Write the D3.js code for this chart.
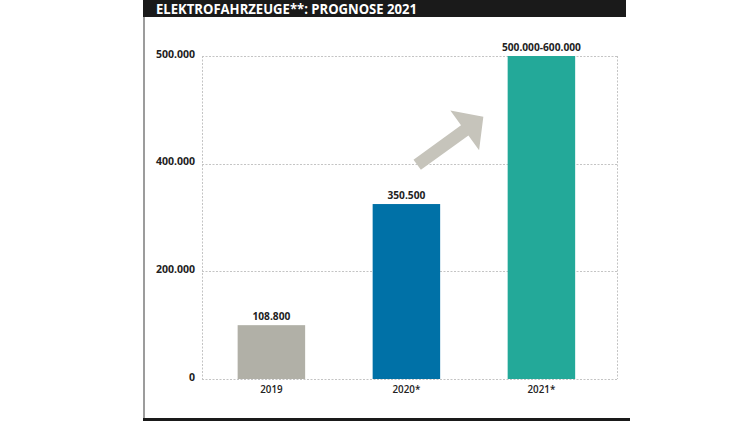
<!DOCTYPE html>
<html>
<head>
<meta charset="utf-8">
<script src="https://cdn.jsdelivr.net/npm/d3@7"></script>
<style>
  html, body { margin: 0; padding: 0; background: #fff; }
  svg { display: block; font-family: "Open Sans", "DejaVu Sans", sans-serif; }
</style>
</head>
<body>
<svg id="chart" width="750" height="422"></svg>
<script>
// ---- data ----
const title = "ELEKTROFAHRZEUGE**: PROGNOSE 2021";
const categories = ["2019", "2020*", "2021*"];
const barValues = [100000, 325000, 600000];          // bar heights as drawn
const barLabels = ["108.800", "350.500", "500.000-600.000"];
const barColors = ["#b1b0a7", "#0071a7", "#23a999"];
const tickValues = [0, 200000, 400000, 600000];
const tickLabels = ["0", "200.000", "400.000", "500.000"];
// trend arrow annotation (data space: value axis)
const arrowFrom = { cat: "2020*", frac: 0.66, value: 398000 };
const arrowTo = { cat: "2021*", frac: -0.36, value: 487000 };

// ---- layout ----
const svg = d3.select("#chart");
const plot = { left: 202, right: 617, top: 56, bottom: 379 };

const x = d3.scaleBand()
  .domain(categories)
  .range([plot.left, 610.8])
  .paddingInner(0.5)
  .paddingOuter(0.264);

const y = d3.scaleLinear()
  .domain([0, 600000])
  .range([plot.bottom, plot.top]);

// title bar
svg.append("rect")
  .attr("x", 143).attr("y", 0)
  .attr("width", 626 - 143).attr("height", 17)
  .attr("fill", "#1a1a1a");
svg.append("text")
  .attr("x", 156).attr("y", 14.2)
  .attr("fill", "#fff")
  .attr("font-size", 13.8)
  .attr("font-weight", 700)
  .attr("textLength", 261)
  .attr("lengthAdjust", "spacingAndGlyphs")
  .text(title);

// frame: left grey border, bottom black rule
svg.append("rect")
  .attr("x", 143).attr("y", 17)
  .attr("width", 2).attr("height", 418 - 17)
  .attr("fill", "#9c9c9c");
svg.append("rect")
  .attr("x", 143).attr("y", 418)
  .attr("width", 630 - 143).attr("height", 3)
  .attr("fill", "#1a1a1a");

// gridlines
const grid = svg.append("g")
  .attr("stroke", "#c4c4c4")
  .attr("stroke-width", 1)
  .attr("stroke-dasharray", "2,1.5")
  .attr("fill", "none");
grid.selectAll("line.h")
  .data(tickValues)
  .join("line")
  .attr("class", "h")
  .attr("x1", plot.left).attr("x2", plot.right)
  .attr("y1", d => Math.round(y(d)) + 0.5)
  .attr("y2", d => Math.round(y(d)) + 0.5);
grid.selectAll("line.v")
  .data([plot.left, plot.right])
  .join("line")
  .attr("class", "v")
  .attr("x1", d => d + 0.5).attr("x2", d => d + 0.5)
  .attr("y1", plot.top).attr("y2", plot.bottom);

// y axis labels
const yAxis = d3.axisLeft(y)
  .tickValues(tickValues)
  .tickFormat((d, i) => tickLabels[i])
  .tickSize(0)
  .tickPadding(0);
const yg = svg.append("g")
  .attr("transform", `translate(195,0)`)
  .call(yAxis);
yg.select(".domain").remove();
yg.selectAll("text")
  .attr("font-family", "Open Sans, sans-serif")
  .attr("font-size", 10.5)
  .attr("font-weight", 700)
  .attr("fill", "#222")
  .attr("dy", "0.1em");

// bars
svg.selectAll("rect.bar")
  .data(categories)
  .join("rect")
  .attr("class", "bar")
  .attr("x", d => x(d))
  .attr("width", x.bandwidth())
  .attr("y", (d, i) => y(barValues[i]))
  .attr("height", (d, i) => y(0) - y(barValues[i]))
  .attr("fill", (d, i) => barColors[i]);

// value labels
svg.selectAll("text.val")
  .data(categories)
  .join("text")
  .attr("class", "val")
  .attr("x", d => x(d) + x.bandwidth() / 2)
  .attr("y", (d, i) => y(barValues[i]) - 5)
  .attr("text-anchor", "middle")
  .attr("font-size", 10.2)
  .attr("font-weight", 700)
  .attr("fill", "#222")
  .text((d, i) => barLabels[i]);

// x axis labels
const xAxis = d3.axisBottom(x).tickSize(0).tickPadding(0);
const xg = svg.append("g")
  .attr("transform", `translate(0,386)`)
  .call(xAxis);
xg.select(".domain").remove();
xg.selectAll("text")
  .attr("font-family", "Open Sans, sans-serif")
  .attr("font-size", 9.8)
  .attr("font-weight", 600)
  .attr("fill", "#222");

// trend arrow
const p0 = [x(arrowFrom.cat) + arrowFrom.frac * x.bandwidth(), y(arrowFrom.value)];
const p1 = [x(arrowTo.cat) + arrowTo.frac * x.bandwidth(), y(arrowTo.value)];
const dx = p1[0] - p0[0], dy = p1[1] - p0[1];
const len = Math.hypot(dx, dy);
const ux = dx / len, uy = dy / len;      // along
const nx = -uy, ny = ux;                  // normal
const shaftW = 6.3, headW = 24.5, headL = 23;
const bx = p1[0] - ux * headL, by = p1[1] - uy * headL;
const pts = [
  [p0[0] + nx * shaftW, p0[1] + ny * shaftW],
  [bx + nx * shaftW, by + ny * shaftW],
  [bx + nx * headW, by + ny * headW],
  [p1[0], p1[1]],
  [bx - nx * headW, by - ny * headW],
  [bx - nx * shaftW, by - ny * shaftW],
  [p0[0] - nx * shaftW, p0[1] - ny * shaftW]
];
svg.append("path")
  .attr("d", d3.line()(pts) + "Z")
  .attr("fill", "#c6c4bb");
</script>
</body>
</html>
